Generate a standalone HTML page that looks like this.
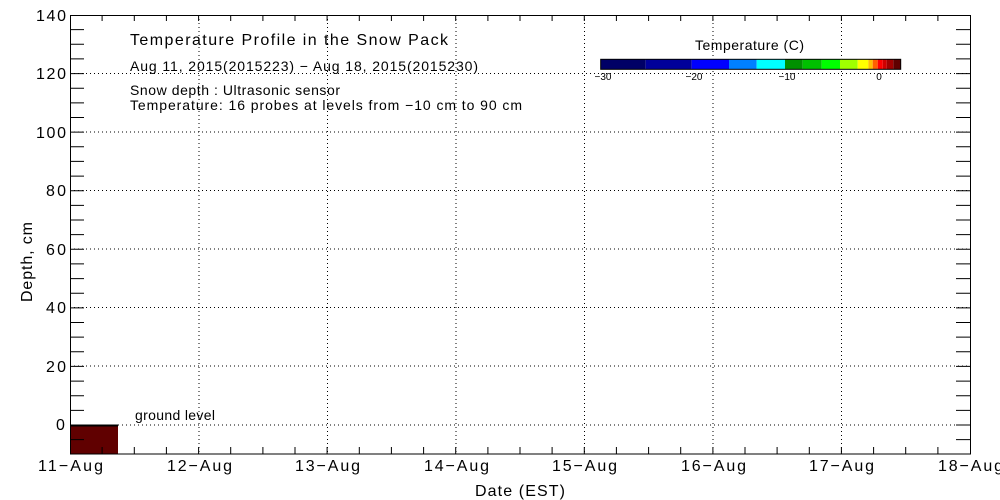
<!DOCTYPE html><html><head><style>body{margin:0;background:#fff}svg{display:block}text{font-family:"Liberation Sans",sans-serif;fill:#000}</style></head><body>
<svg width="1000" height="500" viewBox="0 0 1000 500" xmlns="http://www.w3.org/2000/svg">
<g stroke="#000" stroke-dasharray="1,3" stroke-width="1">
<line x1="199" y1="15" x2="199" y2="454"/><line x1="327.5" y1="15" x2="327.5" y2="454"/><line x1="456" y1="15" x2="456" y2="454"/><line x1="584.5" y1="15" x2="584.5" y2="454"/><line x1="713" y1="15" x2="713" y2="454"/><line x1="841.5" y1="15" x2="841.5" y2="454"/>
<line x1="70" y1="73.5" x2="970" y2="73.5"/><line x1="70" y1="132" x2="970" y2="132"/><line x1="70" y1="190.5" x2="970" y2="190.5"/><line x1="70" y1="249" x2="970" y2="249"/><line x1="70" y1="307.5" x2="970" y2="307.5"/><line x1="70" y1="366" x2="970" y2="366"/><line x1="118" y1="425" x2="970" y2="425"/>
</g>
<rect x="70" y="425" width="48" height="29" fill="#600000"/>
<line x1="70" y1="425.5" x2="118" y2="425.5" stroke="#000" stroke-width="2"/>
<rect x="70.5" y="15.5" width="900" height="438.5" fill="none" stroke="#000"/>
<path stroke="#000" fill="none" d="
M102.1 454V447M134.3 454V447M166.4 454V447M230.7 454V447M262.9 454V447M295 454V447M359.3 454V447M391.4 454V447M423.6 454V447M487.9 454V447M520 454V447M552.1 454V447M616.4 454V447M648.6 454V447M680.7 454V447M745 454V447M777.1 454V447M809.3 454V447M873.6 454V447M905.7 454V447M937.9 454V447
M198.6 454V447M327.1 454V447M455.7 454V447M584.3 454V447M712.9 454V447M841.4 454V447
M102.1 15V21M134.3 15V21M166.4 15V21M198.6 15V21M230.7 15V21M262.9 15V21M295 15V21M327.1 15V21M359.3 15V21M391.4 15V21M423.6 15V21M455.7 15V21M487.9 15V21M520 15V21M552.1 15V21M584.3 15V21M616.4 15V21M648.6 15V21M680.7 15V21M712.9 15V21M745 15V21M777.1 15V21M809.3 15V21M841.4 15V21M873.6 15V21M905.7 15V21M937.9 15V21
M70 439.6H84M70 425H84M70 410.4H84M70 395.7H84M70 381.1H84M70 366.4H84M70 351.8H84M70 337.1H84M70 322.5H84M70 307.9H84M70 293.2H84M70 278.6H84M70 263.9H84M70 249.3H84M70 234.6H84M70 220H84M70 205.4H84M70 190.7H84M70 176.1H84M70 161.4H84M70 146.8H84M70 132.1H84M70 117.5H84M70 102.9H84M70 88.2H84M70 73.6H84M70 58.9H84M70 44.3H84M70 29.6H84
M970 439.6H956M970 425H956M970 410.4H956M970 395.7H956M970 381.1H956M970 366.4H956M970 351.8H956M970 337.1H956M970 322.5H956M970 307.9H956M970 293.2H956M970 278.6H956M970 263.9H956M970 249.3H956M970 234.6H956M970 220H956M970 205.4H956M970 190.7H956M970 176.1H956M970 161.4H956M970 146.8H956M970 132.1H956M970 117.5H956M970 102.9H956M970 88.2H956M970 73.6H956M970 58.9H956M970 44.3H956M970 29.6H956"/>
<g font-size="16">
<text x="36" y="21" textLength="30">140</text><text x="36" y="79" textLength="30">120</text><text x="36" y="138" textLength="30">100</text><text x="46" y="196" textLength="20">80</text><text x="46" y="255" textLength="20">60</text><text x="46" y="313" textLength="20">40</text><text x="46" y="372" textLength="20">20</text><text x="56" y="430" textLength="10">0</text>
</g>
<g font-size="16">
<text x="38" y="471" textLength="65">11−Aug</text><text x="167" y="471" textLength="65">12−Aug</text><text x="295" y="471" textLength="65">13−Aug</text><text x="424" y="471" textLength="65">14−Aug</text><text x="552" y="471" textLength="65">15−Aug</text><text x="681" y="471" textLength="65">16−Aug</text><text x="809" y="471" textLength="65">17−Aug</text><text x="938" y="471" textLength="65">18−Aug</text>
<text x="475" y="496" textLength="90">Date (EST)</text>
</g>
<text transform="translate(32,302) rotate(-90)" font-size="16" textLength="80">Depth, cm</text>
<text x="130" y="45" font-size="16" textLength="318">Temperature Profile in the Snow Pack</text>
<text x="130" y="71" font-size="14" textLength="348">Aug 11, 2015(2015223) − Aug 18, 2015(2015230)</text>
<text x="130" y="95" font-size="14" textLength="210">Snow depth : Ultrasonic sensor</text>
<text x="130" y="110" font-size="14" textLength="392">Temperature: 16 probes at levels from −10 cm to 90 cm</text>
<text x="135" y="420" font-size="14" textLength="80">ground level</text>
<text x="695" y="50" font-size="14" textLength="109">Temperature (C)</text>
<g>
<rect x="600.7" y="59.3" width="45" height="10" fill="#000066"/>
<rect x="645.7" y="59.3" width="46" height="10" fill="#00009a"/>
<rect x="691.7" y="59.3" width="37.3" height="10" fill="#0000ff"/>
<rect x="729" y="59.3" width="27.7" height="10" fill="#0080ff"/>
<rect x="756.7" y="59.3" width="28.3" height="10" fill="#00ffff"/>
<rect x="785" y="59.3" width="17.7" height="10" fill="#009000"/>
<rect x="802.7" y="59.3" width="19" height="10" fill="#00c000"/>
<rect x="821.7" y="59.3" width="18.3" height="10" fill="#00ff00"/>
<rect x="840" y="59.3" width="17.7" height="10" fill="#a0ff00"/>
<rect x="857.7" y="59.3" width="10.6" height="10" fill="#ffff00"/>
<rect x="868.3" y="59.3" width="4.4" height="10" fill="#ffc000"/>
<rect x="872.7" y="59.3" width="5" height="10" fill="#ff6000"/>
<rect x="877.7" y="59.3" width="5" height="10" fill="#ff0000"/>
<rect x="882.7" y="59.3" width="4" height="10" fill="#d00000"/>
<rect x="886.7" y="59.3" width="6.6" height="10" fill="#a00000"/>
<rect x="893.3" y="59.3" width="7.4" height="10" fill="#600000"/>
<rect x="600.7" y="59.3" width="300" height="10" fill="none" stroke="#000"/>
</g>
<g font-size="10" text-anchor="middle"><text x="603" y="80">−30</text><text x="694" y="80">−20</text><text x="787" y="80">−10</text><text x="879" y="80">0</text></g>
</svg></body></html>
